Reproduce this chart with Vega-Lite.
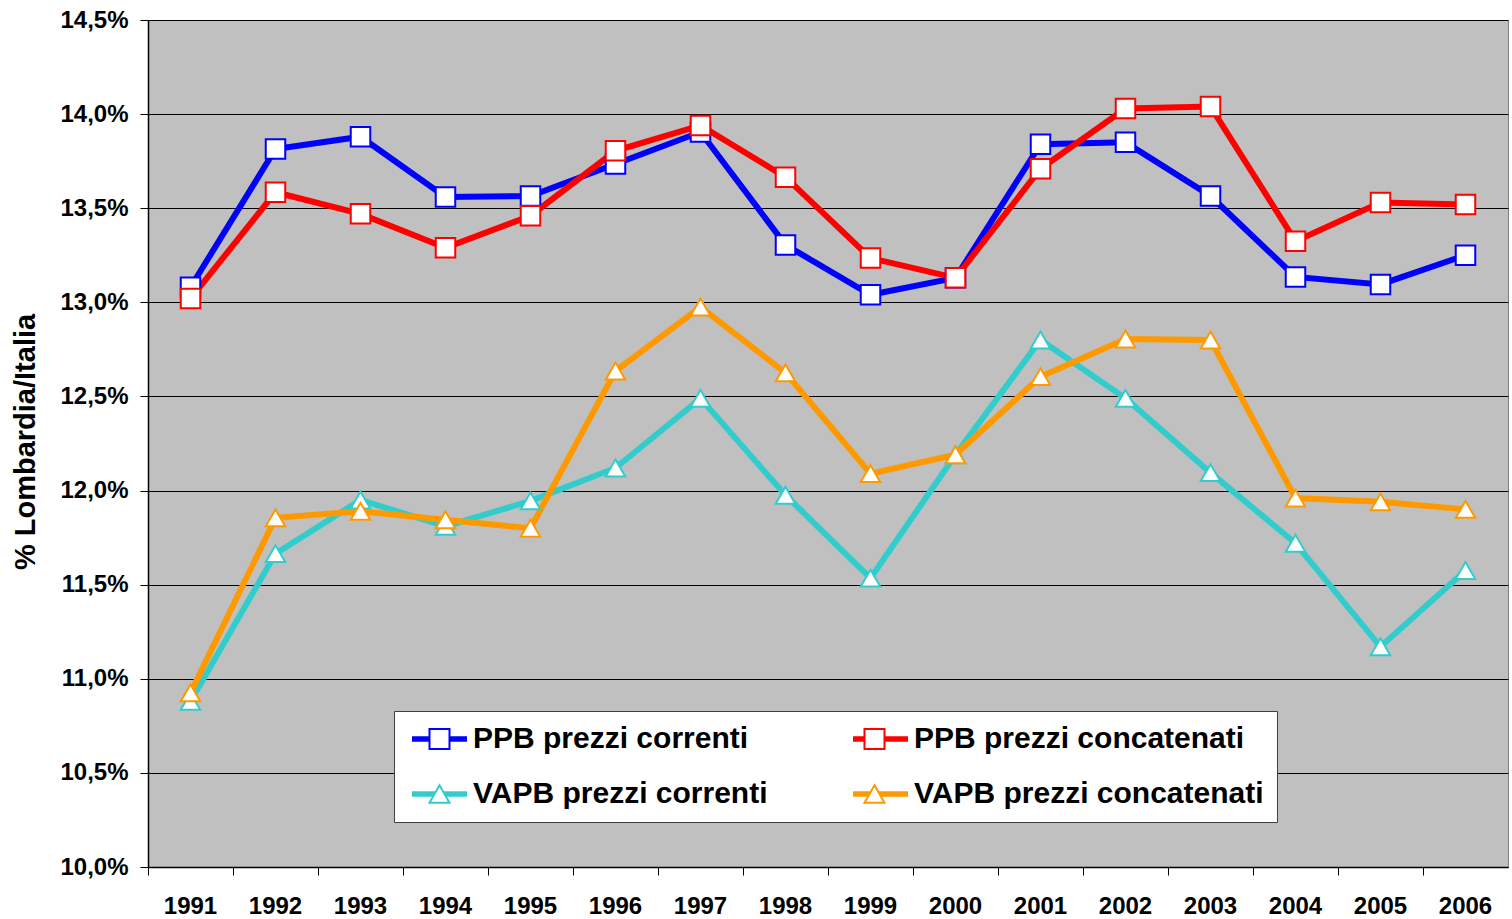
{
  "$schema": "https://vega.github.io/schema/vega-lite/v6.json",
  "width": 1360,
  "height": 847,
  "autosize": {"type": "none"},
  "padding": {"left": 148, "top": 20, "right": 4, "bottom": 52},
  "background": "white",
  "config": {
    "view": {"fill": "#C0C0C0", "stroke": "#808080", "strokeWidth": 1},
    "font": "Liberation Sans, Arial, sans-serif",
    "legend": {
      "orient": "none",
      "legendX": 246,
      "legendY": 691,
      "columns": 2,
      "title": null,
      "labelFont": "Liberation Sans, Arial, sans-serif",
      "labelFontSize": 30,
      "labelFontWeight": "bold",
      "labelColor": "black",
      "labelLimit": 500,
      "labelOffset": 18.5,
      "symbolOffset": 17.5,
      "symbolSize": 400,
      "padding": 13,
      "rowPadding": 25,
      "columnPadding": 19,
      "gridAlign": "all"
    }
  },
  "data": {
    "values": [
      {"year": "1991", "series": "PPB prezzi correnti", "value": 13.08},
      {"year": "1992", "series": "PPB prezzi correnti", "value": 13.815},
      {"year": "1993", "series": "PPB prezzi correnti", "value": 13.88},
      {"year": "1994", "series": "PPB prezzi correnti", "value": 13.56},
      {"year": "1995", "series": "PPB prezzi correnti", "value": 13.565},
      {"year": "1996", "series": "PPB prezzi correnti", "value": 13.735},
      {"year": "1997", "series": "PPB prezzi correnti", "value": 13.905},
      {"year": "1998", "series": "PPB prezzi correnti", "value": 13.305},
      {"year": "1999", "series": "PPB prezzi correnti", "value": 13.04},
      {"year": "2000", "series": "PPB prezzi correnti", "value": 13.13},
      {"year": "2001", "series": "PPB prezzi correnti", "value": 13.84},
      {"year": "2002", "series": "PPB prezzi correnti", "value": 13.85},
      {"year": "2003", "series": "PPB prezzi correnti", "value": 13.565},
      {"year": "2004", "series": "PPB prezzi correnti", "value": 13.135},
      {"year": "2005", "series": "PPB prezzi correnti", "value": 13.095},
      {"year": "2006", "series": "PPB prezzi correnti", "value": 13.25},
      {"year": "1991", "series": "PPB prezzi concatenati", "value": 13.02},
      {"year": "1992", "series": "PPB prezzi concatenati", "value": 13.585},
      {"year": "1993", "series": "PPB prezzi concatenati", "value": 13.47},
      {"year": "1994", "series": "PPB prezzi concatenati", "value": 13.29},
      {"year": "1995", "series": "PPB prezzi concatenati", "value": 13.46},
      {"year": "1996", "series": "PPB prezzi concatenati", "value": 13.805},
      {"year": "1997", "series": "PPB prezzi concatenati", "value": 13.94},
      {"year": "1998", "series": "PPB prezzi concatenati", "value": 13.665},
      {"year": "1999", "series": "PPB prezzi concatenati", "value": 13.235},
      {"year": "2000", "series": "PPB prezzi concatenati", "value": 13.13},
      {"year": "2001", "series": "PPB prezzi concatenati", "value": 13.71},
      {"year": "2002", "series": "PPB prezzi concatenati", "value": 14.03},
      {"year": "2003", "series": "PPB prezzi concatenati", "value": 14.04},
      {"year": "2004", "series": "PPB prezzi concatenati", "value": 13.325},
      {"year": "2005", "series": "PPB prezzi concatenati", "value": 13.53},
      {"year": "2006", "series": "PPB prezzi concatenati", "value": 13.52},
      {"year": "1991", "series": "VAPB prezzi correnti", "value": 10.88},
      {"year": "1992", "series": "VAPB prezzi correnti", "value": 11.665},
      {"year": "1993", "series": "VAPB prezzi correnti", "value": 11.95},
      {"year": "1994", "series": "VAPB prezzi correnti", "value": 11.81},
      {"year": "1995", "series": "VAPB prezzi correnti", "value": 11.945},
      {"year": "1996", "series": "VAPB prezzi correnti", "value": 12.12},
      {"year": "1997", "series": "VAPB prezzi correnti", "value": 12.49},
      {"year": "1998", "series": "VAPB prezzi correnti", "value": 11.975},
      {"year": "1999", "series": "VAPB prezzi correnti", "value": 11.535},
      {"year": "2000", "series": "VAPB prezzi correnti", "value": 12.19},
      {"year": "2001", "series": "VAPB prezzi correnti", "value": 12.8},
      {"year": "2002", "series": "VAPB prezzi correnti", "value": 12.49},
      {"year": "2003", "series": "VAPB prezzi correnti", "value": 12.095},
      {"year": "2004", "series": "VAPB prezzi correnti", "value": 11.72},
      {"year": "2005", "series": "VAPB prezzi correnti", "value": 11.17},
      {"year": "2006", "series": "VAPB prezzi correnti", "value": 11.575},
      {"year": "1991", "series": "VAPB prezzi concatenati", "value": 10.925},
      {"year": "1992", "series": "VAPB prezzi concatenati", "value": 11.855},
      {"year": "1993", "series": "VAPB prezzi concatenati", "value": 11.89},
      {"year": "1994", "series": "VAPB prezzi concatenati", "value": 11.845},
      {"year": "1995", "series": "VAPB prezzi concatenati", "value": 11.8},
      {"year": "1996", "series": "VAPB prezzi concatenati", "value": 12.635},
      {"year": "1997", "series": "VAPB prezzi concatenati", "value": 12.975},
      {"year": "1998", "series": "VAPB prezzi concatenati", "value": 12.625},
      {"year": "1999", "series": "VAPB prezzi concatenati", "value": 12.09},
      {"year": "2000", "series": "VAPB prezzi concatenati", "value": 12.19},
      {"year": "2001", "series": "VAPB prezzi concatenati", "value": 12.605},
      {"year": "2002", "series": "VAPB prezzi concatenati", "value": 12.805},
      {"year": "2003", "series": "VAPB prezzi concatenati", "value": 12.8},
      {"year": "2004", "series": "VAPB prezzi concatenati", "value": 11.96},
      {"year": "2005", "series": "VAPB prezzi concatenati", "value": 11.94},
      {"year": "2006", "series": "VAPB prezzi concatenati", "value": 11.9}
    ]
  },
  "encoding": {
    "x": {
      "field": "year",
      "type": "ordinal",
      "scale": {"type": "band", "paddingInner": 0, "paddingOuter": 0},
      "axis": {
        "title": null,
        "bandPosition": 0,
        "labelAngle": 0,
        "labelFont": "Liberation Sans, Arial, sans-serif",
        "labelFontSize": 24,
        "labelFontWeight": "bold",
        "labelColor": "black",
        "labelPadding": 19,
        "tickSize": 8,
        "tickColor": "black",
        "tickWidth": 1,
        "domainColor": "black",
        "domainWidth": 1.5,
        "grid": false
      }
    },
    "y": {
      "field": "value",
      "type": "quantitative",
      "scale": {"domain": [10, 14.5], "nice": false, "zero": false},
      "axis": {
        "values": [10, 10.5, 11, 11.5, 12, 12.5, 13, 13.5, 14, 14.5],
        "labelExpr": "replace(format(datum.value, '.1f'), '.', ',') + '%'",
        "labelFont": "Liberation Sans, Arial, sans-serif",
        "labelFontSize": 24,
        "labelFontWeight": "bold",
        "labelColor": "black",
        "labelPadding": 12,
        "tickSize": 8,
        "tickColor": "black",
        "tickWidth": 1,
        "domainColor": "black",
        "domainWidth": 1.5,
        "grid": true,
        "gridColor": "black",
        "gridWidth": 1,
        "gridOpacity": 1,
        "title": "% Lombardia/Italia",
        "titleFont": "Liberation Sans, Arial, sans-serif",
        "titleFontSize": 29,
        "titleFontWeight": "bold",
        "titleColor": "black",
        "titleAngle": -90,
        "titleX": -123,
        "titleY": 421.5,
        "titleAlign": "center",
        "titleBaseline": "middle"
      }
    }
  },
  "layer": [
    {
      "mark": {"type": "line", "strokeWidth": 6, "strokeJoin": "miter"},
      "encoding": {
        "color": {
          "field": "series",
          "type": "nominal",
          "scale": {
            "domain": ["PPB prezzi correnti", "PPB prezzi concatenati", "VAPB prezzi correnti", "VAPB prezzi concatenati"],
            "range": ["#0000FF", "#FF0000", "#33CCCC", "#FF9900"]
          },
          "legend": {
            "direction": "horizontal",
            "symbolType": "M-2.75,0H2.75",
            "symbolStrokeWidth": 5.5,
            "fillColor": "white",
            "strokeColor": "#404040",
            "zindex": 1
          }
        }
      }
    },
    {
      "mark": {"type": "point", "filled": true, "fill": "white", "size": 380, "strokeWidth": 2, "opacity": 1},
      "encoding": {
        "stroke": {
          "field": "series",
          "type": "nominal",
          "scale": {
            "domain": ["PPB prezzi correnti", "VAPB prezzi correnti", "PPB prezzi concatenati", "VAPB prezzi concatenati"],
            "range": ["#0000FF", "#33CCCC", "#FF0000", "#FF9900"]
          },
          "legend": {
            "direction": "vertical",
            "symbolFillColor": "white",
            "symbolStrokeWidth": 2,
            "labelOpacity": 0,
            "zindex": 2
          }
        },
        "shape": {
          "field": "series",
          "type": "nominal",
          "scale": {
            "domain": ["PPB prezzi correnti", "VAPB prezzi correnti", "PPB prezzi concatenati", "VAPB prezzi concatenati"],
            "range": ["square", "triangle-up", "square", "triangle-up"]
          },
          "legend": {
            "direction": "vertical",
            "symbolFillColor": "white",
            "symbolStrokeWidth": 2,
            "labelOpacity": 0,
            "zindex": 2
          }
        }
      }
    }
  ]
}
